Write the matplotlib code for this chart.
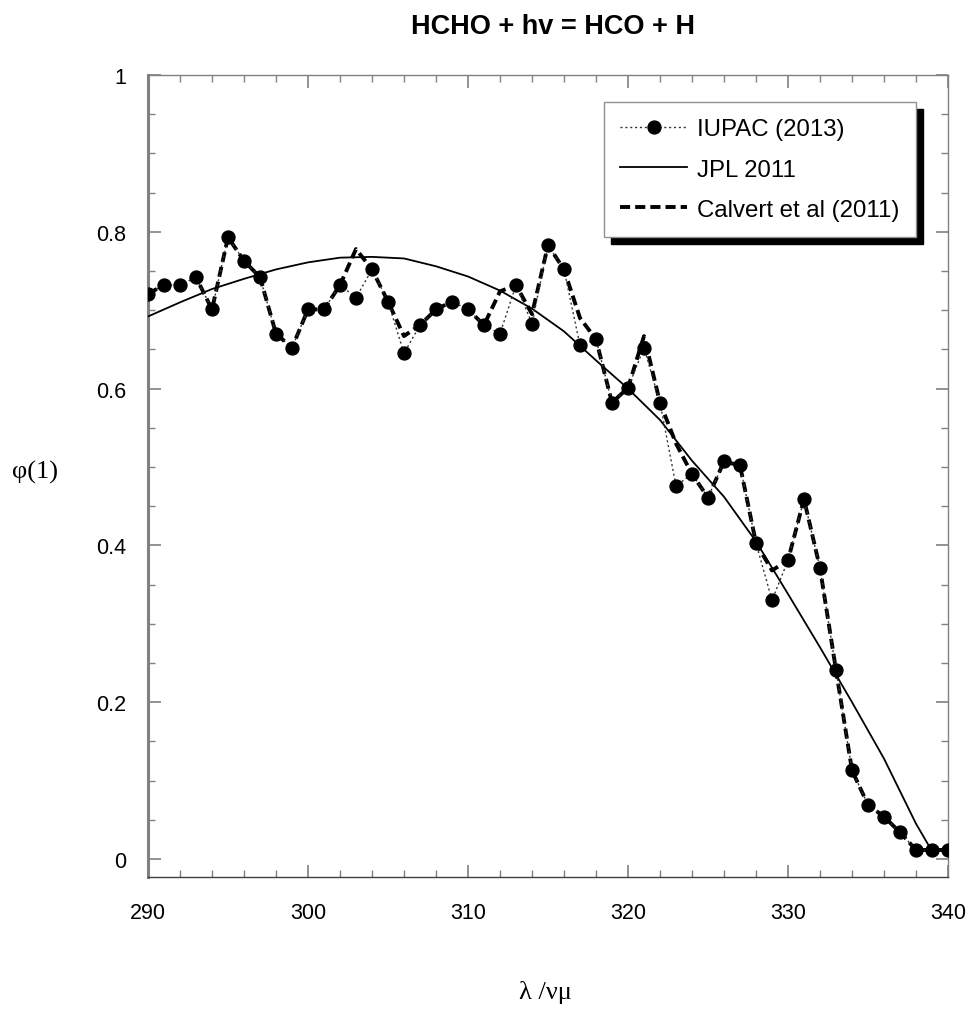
import matplotlib
matplotlib.use("Agg")
import matplotlib.pyplot as plt
from matplotlib.ticker import MultipleLocator, FixedLocator

plt.rcParams['font.family'] = ['Liberation Sans', 'DejaVu Sans']

# ---- data ----
wavelength = list(range(290, 341))
iupac = [0.721, 0.732, 0.732, 0.742, 0.701, 0.793, 0.763, 0.742, 0.670, 0.652,
         0.701, 0.701, 0.732, 0.716, 0.752, 0.711, 0.645, 0.681, 0.701, 0.711,
         0.701, 0.681, 0.670, 0.732, 0.683, 0.783, 0.752, 0.655, 0.663, 0.582,
         0.601, 0.652, 0.582, 0.476, 0.491, 0.461, 0.507, 0.502, 0.403, 0.330,
         0.381, 0.459, 0.371, 0.241, 0.113, 0.069, 0.054, 0.034, 0.0115, 0.0115,
         0.0115]
calvert = [0.721, 0.732, 0.732, 0.742, 0.701, 0.793, 0.763, 0.742, 0.670, 0.652,
           0.701, 0.701, 0.732, 0.778, 0.752, 0.711, 0.667, 0.681, 0.701, 0.711,
           0.701, 0.681, 0.724, 0.732, 0.695, 0.783, 0.752, 0.690, 0.663, 0.582,
           0.601, 0.667, 0.582, 0.530, 0.491, 0.461, 0.507, 0.502, 0.403, 0.368,
           0.381, 0.459, 0.371, 0.241, 0.113, 0.069, 0.054, 0.034, 0.0115, 0.0115,
           0.0115]
jpl_wl = [290, 292, 294, 296, 298, 300, 302, 304, 306, 308, 310, 312, 314, 316,
          318, 320, 322, 324, 326, 328, 330, 332, 334, 336, 338, 339]
jpl = [0.692, 0.710, 0.727, 0.740, 0.752, 0.761, 0.767, 0.768, 0.766, 0.756,
       0.743, 0.725, 0.702, 0.673, 0.636, 0.600, 0.560, 0.508, 0.462, 0.405,
       0.338, 0.270, 0.200, 0.128, 0.045, 0.010]

series_labels = ["IUPAC (2013)", "JPL 2011", "Calvert et al (2011)"]
x_ticks = [290, 300, 310, 320, 330, 340]
y_ticks = [0, 0.2, 0.4, 0.6, 0.8, 1]
y_tick_labels = ["0", "0.2", "0.4", "0.6", "0.8", "1"]
title = "HCHO + hv = HCO + H"
xlabel = "λ /νμ"
ylabel = "φ(1)"

# ---- figure ----
fig = plt.figure(figsize=(9.72, 10.12), dpi=100)
ax = fig.add_axes([148/972, 1-878/1012, 800/972, 802/1012])

l1, = ax.plot(wavelength, iupac, color='#333333', lw=1.0, ls=(0, (1.5, 2)),
              marker='o', ms=9.3, mfc='black', mec='black', zorder=4,
              label=series_labels[0])
l2, = ax.plot(jpl_wl, jpl, color='black', lw=1.3, ls='-', zorder=3,
              label=series_labels[1])
l3, = ax.plot(wavelength, calvert, color='black', lw=2.8, ls=(0, (2.6, 1.3)),
              zorder=3, label=series_labels[2])

ax.set_xlim(290, 340)
ax.set_ylim(-0.023, 1.0)
ax.xaxis.set_major_locator(FixedLocator(x_ticks))
ax.xaxis.set_minor_locator(MultipleLocator(2))
ax.yaxis.set_major_locator(FixedLocator(y_ticks))
ax.yaxis.set_minor_locator(MultipleLocator(0.05))
ax.set_yticklabels(y_tick_labels)

ax.tick_params(which='both', direction='in', top=True, right=True,
               colors='#808080', labelcolor='black', labelsize=15.5)
ax.tick_params(which='major', length=9, width=1.2)
ax.tick_params(which='minor', length=5, width=1.0)
ax.tick_params(axis='x', which='major', pad=18)
ax.tick_params(axis='y', which='major', pad=16)

for side, sp in ax.spines.items():
    sp.set_color('#808080')
    sp.set_linewidth(1.0)
ax.spines['left'].set_linewidth(2.2)
ax.spines['bottom'].set_color('#404040')

fig.text(553/972, 1-27/1012, title, ha='center', va='center',
         fontsize=19.5, fontweight='bold')
fig.text(35/972, 1-472/1012, ylabel, ha='center', va='center',
         fontsize=19, family=['Liberation Serif', 'DejaVu Serif'])
fig.text(545/972, 1-993/1012, xlabel, ha='center', va='center',
         fontsize=19, family=['Liberation Serif', 'DejaVu Serif'])

leg = ax.legend(handles=[l1, l2, l3], loc='upper right',
                bbox_to_anchor=((916-148)/800, (878-103)/802),
                fontsize=17.3, frameon=True, fancybox=False,
                shadow={'ox': 5, 'oy': -5, 'facecolor': 'black',
                        'edgecolor': 'black', 'alpha': 1},
                handlelength=2.8, handletextpad=0.42, labelspacing=0.76,
                borderpad=0.68, borderaxespad=0)
leg.get_frame().set_edgecolor('#909090')
leg.get_frame().set_linewidth(1.0)
leg.get_frame().set_alpha(1)

fig.savefig("out.png", dpi=100)
